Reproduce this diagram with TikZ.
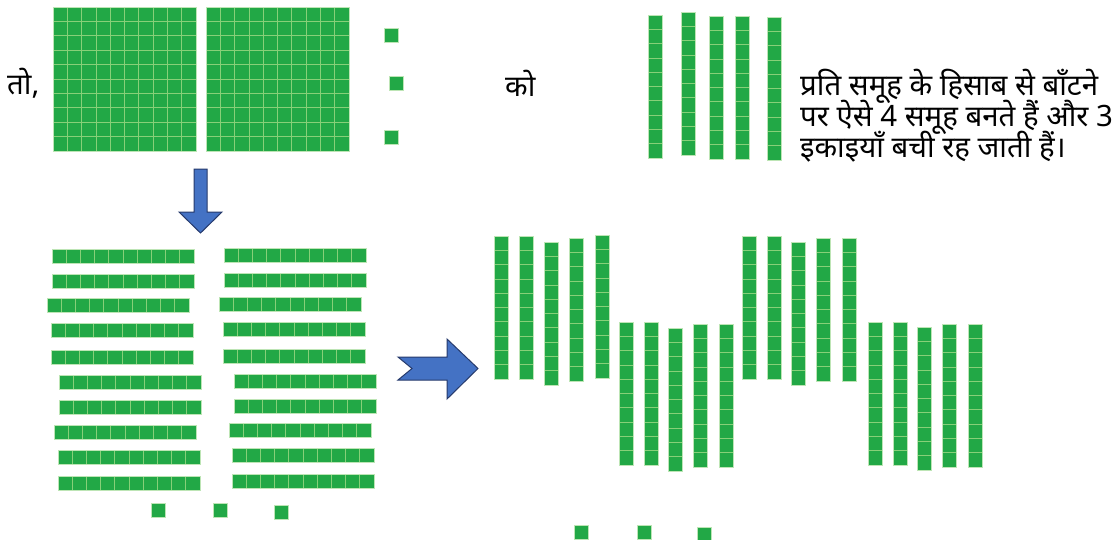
\documentclass[tikz,border=0pt]{standalone}
\usepackage{fontspec}
\newfontfamily\deva[Script=Devanagari]{Noto Sans}
\definecolor{blockgreen}{RGB}{34,168,70}
\definecolor{cellline}{RGB}{135,208,120}
\definecolor{arrowblue}{RGB}{68,114,196}
\definecolor{arrowedge}{RGB}{38,58,108}

\tikzset{
  block/.style={fill=blockgreen},
  seam/.style={draw=cellline, line width=0.7pt},
  rim/.style={draw=cellline!55, line width=0.6pt},
  bluearrow/.style={fill=arrowblue, draw=arrowedge, line width=1pt, line join=miter},
  txt/.style={font=\deva\fontsize{29.4}{31}\selectfont, inner sep=0pt, anchor=base west},
  % a single unit cube
  unit/.pic={
    \fill[block] (0,0) rectangle (14,14);
    \draw[rim] (0,0) rectangle (14,14);
  },
  % a rod of ten, standing
  vrod/.pic={
    \fill[block] (0,0) rectangle (14.5,143);
    \foreach \k in {1,...,9} \draw[seam] (0,\k*14.3) -- (14.5,\k*14.3);
    \draw[rim] (0,0) rectangle (14.5,143);
  },
  % a rod of ten, lying
  hrod/.pic={
    \fill[block] (0,0) rectangle (142,14);
    \foreach \k in {1,...,9} \draw[seam] (\k*14.2,0) -- (\k*14.2,14);
    \draw[rim] (0,0) rectangle (142,14);
  },
  % a flat of one hundred
  flat/.pic={
    \fill[block] (0,0) rectangle (143,144);
    \foreach \k in {1,...,9} {
      \draw[seam] (\k*14.3,0) -- (\k*14.3,144);
      \draw[seam] (0,\k*14.4) -- (143,\k*14.4);
    }
    \draw[rim] (0,0) rectangle (143,144);
  }
}

\begin{document}
\begin{tikzpicture}[x=1pt,y=-1pt]
\fill[white] (0,0) rectangle (1119,539);
\useasboundingbox (0,0) rectangle (1119,539);

% ---- top row: 2 hundreds and 3 ones ----
\node[txt] (to) at (7,94) {तो,};
\pic at (53,7) {flat};
\pic at (206,7) {flat};
\pic at (384,28) {unit};
\pic at (389,76) {unit};
\pic at (384,130) {unit};

\node[txt] (ko) at (505,96) {को};
\foreach \x/\y in {648/15, 681/12, 709/16, 735/16, 767/17}
  \pic at (\x,\y) {vrod};

\node[txt] (l1) at (800,95) {प्रति समूह के हिसाब से बाँटने};
\node[txt] (l2) at (800,126) {पर ऐसे 4 समूह बनते हैं और 3};
\node[txt] (l3) at (800,157) {इकाइयाँ बची रह जाती हैं।};

% ---- down arrow ----
\draw[bluearrow] (194,169) -- (207,169) -- (207,212) -- (222,212) -- (200.5,233)
  -- (179,212) -- (194,212) -- cycle;

% ---- hundreds broken into tens ----
\foreach \x/\y in {52/249, 52/274, 47/298, 51/323, 51/350,
                   59/375, 59/400, 54/425, 58/450, 58/476,
                   224/248, 224/273, 219/297, 223/322, 223/349,
                   234/374, 234/399, 229/423, 232/448, 232/474}
  \pic at (\x,\y) {hrod};
\foreach \x/\y in {151/503, 213/503, 274/505}
  \pic at (\x,\y) {unit};

% ---- right arrow with notched tail ----
\draw[bluearrow] (398,357) -- (447,357) -- (447,339) -- (478,368.5) -- (447,399)
  -- (447,380) -- (398,380) -- (412,368.5) -- cycle;

% ---- four groups of five tens ----
\foreach \x/\y in {494/236, 519/236, 544/242, 569/238, 595/235,
                   619/322, 644/322, 668/328, 693/324, 719/324,
                   742/236, 767/236, 791/242, 816/238, 842/238,
                   868/322, 893/322, 917/327, 942/324, 968/324}
  \pic at (\x,\y) {vrod};
\foreach \x/\y in {574/525, 637/525, 697/527}
  \pic at (\x,\y) {unit};
\end{tikzpicture}
\end{document}
